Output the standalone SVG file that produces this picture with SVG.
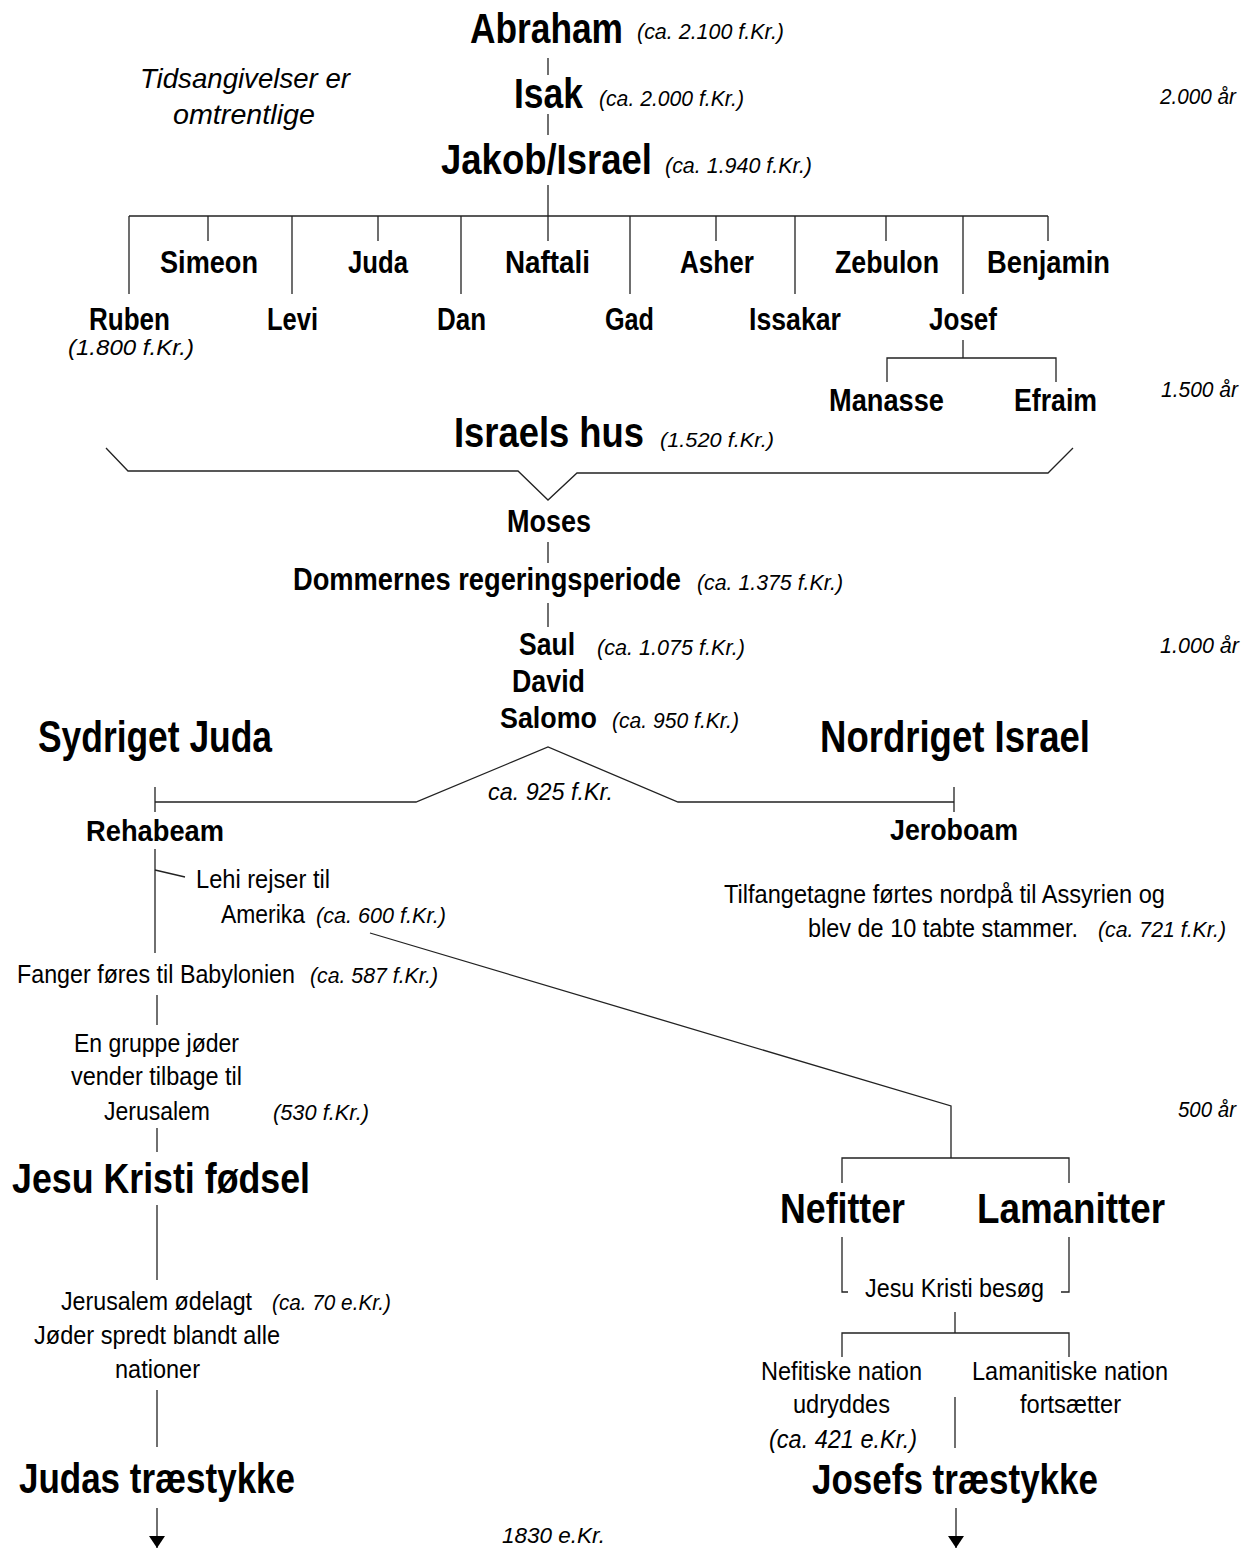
<svg xmlns="http://www.w3.org/2000/svg" width="1249" height="1548" viewBox="0 0 1249 1548">
<style>
text{font-family:"Liberation Sans",Arial,sans-serif;fill:#000}
.big{font-size:42px;font-weight:bold}
.med{font-size:31px;font-weight:bold}
.sm{font-size:29px;font-weight:bold}
.reg{font-size:25px}
.it{font-size:22px;font-style:italic}
.note{font-size:28px;font-style:italic}
.ln{fill:none;stroke:#222;stroke-width:1.3}
</style>
<defs>
<marker id="arr" markerUnits="userSpaceOnUse" markerWidth="12" markerHeight="16" refX="12" refY="8" orient="auto">
<path d="M0,0 L12,8 L0,16 z" fill="#000"/>
</marker>
</defs>
<rect width="1249" height="1548" fill="#fff"/>

<g id="connectors" class="ln">
<path d="M548,58 V75"/>
<path d="M548,114 V135"/>
<path d="M548,185 V241"/>
<path d="M129,216 H1048"/>
<path d="M129,216 V294 M292,216 V294 M461,216 V294 M630,216 V294 M795,216 V294 M963,216 V294"/>
<path d="M208,216 V241 M378,216 V241 M716,216 V241 M886,216 V241 M1048,216 V241"/>
<path d="M963,340 V358 M887,382 V358 H1056 V382"/>
<polyline points="106,448 128,471 518,471 548,500 577,473 1048,473 1073,448"/>
<path d="M548,542 V563"/>
<path d="M548,603 V627"/>
<polyline points="155,802 416,802 548,747 678,802 954,802"/>
<path d="M155,787 V812 M954,787 V812"/>
<path d="M155,849 V953"/>
<path d="M155,870 L185,877"/>
<polyline points="370,933 951,1106 951,1158"/>
<path d="M842,1183 V1158 H1069 V1183"/>
<path d="M157,995 V1025"/>
<path d="M157,1128 V1152"/>
<path d="M157,1205 V1280"/>
<path d="M157,1390 V1447"/>
<path d="M157,1508 V1548" marker-end="url(#arr)"/>
<path d="M842,1237 V1292 H848 M1069,1237 V1292 H1061"/>
<path d="M955,1312 V1333 M842,1357 V1333 H1069 V1357"/>
<path d="M955,1397 V1448"/>
<path d="M956,1508 V1548" marker-end="url(#arr)"/>
</g>

<g id="note"><text class="note" x="140" y="88" textLength="210" lengthAdjust="spacingAndGlyphs">Tidsangivelser er</text><text class="note" x="173" y="124" textLength="142" lengthAdjust="spacingAndGlyphs">omtrentlige</text></g>

<g id="scale">
<text class="it" x="1160" y="104" textLength="76" lengthAdjust="spacingAndGlyphs">2.000 år</text>
<text class="it" x="1161" y="397" textLength="77" lengthAdjust="spacingAndGlyphs">1.500 år</text>
<text class="it" x="1160" y="653" textLength="79" lengthAdjust="spacingAndGlyphs">1.000 år</text>
<text class="it" x="1178" y="1117" textLength="58" lengthAdjust="spacingAndGlyphs">500 år</text>
<text class="it" x="502" y="1543" textLength="103" lengthAdjust="spacingAndGlyphs">1830 e.Kr.</text>
</g>

<g id="abraham"><text class="big" x="470" y="43" textLength="153" lengthAdjust="spacingAndGlyphs" style="font-size:38px" transform="matrix(1,0,0,1.105,0,-4.5)">Abraham</text><text class="it" x="637" y="39" textLength="147" lengthAdjust="spacingAndGlyphs">(ca. 2.100 f.Kr.)</text></g>
<g id="isak"><text class="big" x="514" y="108" textLength="69" lengthAdjust="spacingAndGlyphs">Isak</text><text class="it" x="599" y="106" textLength="145" lengthAdjust="spacingAndGlyphs">(ca. 2.000 f.Kr.)</text></g>
<g id="jakob"><text class="big" x="441" y="174" textLength="211" lengthAdjust="spacingAndGlyphs" style="font-size:38px" transform="matrix(1,0,0,1.105,0,-18.27)">Jakob/Israel</text><text class="it" x="665" y="173" textLength="147" lengthAdjust="spacingAndGlyphs">(ca. 1.940 f.Kr.)</text></g>

<g id="simeon"><text class="med" x="160" y="273" textLength="98" lengthAdjust="spacingAndGlyphs">Simeon</text></g>
<g id="juda"><text class="med" x="348" y="273" textLength="60" lengthAdjust="spacingAndGlyphs">Juda</text></g>
<g id="naftali"><text class="med" x="505" y="273" textLength="85" lengthAdjust="spacingAndGlyphs">Naftali</text></g>
<g id="asher"><text class="med" x="680" y="273" textLength="74" lengthAdjust="spacingAndGlyphs">Asher</text></g>
<g id="zebulon"><text class="med" x="835" y="273" textLength="104" lengthAdjust="spacingAndGlyphs">Zebulon</text></g>
<g id="benjamin"><text class="med" x="987" y="273" textLength="123" lengthAdjust="spacingAndGlyphs">Benjamin</text></g>
<g id="ruben"><text class="med" x="89" y="330" textLength="81" lengthAdjust="spacingAndGlyphs">Ruben</text><text class="it" x="68" y="355" textLength="126" lengthAdjust="spacingAndGlyphs">(1.800 f.Kr.)</text></g>
<g id="levi"><text class="med" x="267" y="330" textLength="51" lengthAdjust="spacingAndGlyphs">Levi</text></g>
<g id="dan"><text class="med" x="437" y="330" textLength="49" lengthAdjust="spacingAndGlyphs">Dan</text></g>
<g id="gad"><text class="med" x="605" y="330" textLength="49" lengthAdjust="spacingAndGlyphs">Gad</text></g>
<g id="issakar"><text class="med" x="749" y="330" textLength="92" lengthAdjust="spacingAndGlyphs">Issakar</text></g>
<g id="josef"><text class="med" x="929" y="330" textLength="68" lengthAdjust="spacingAndGlyphs">Josef</text></g>
<g id="manasse"><text class="med" x="829" y="411" textLength="115" lengthAdjust="spacingAndGlyphs">Manasse</text></g>
<g id="efraim"><text class="med" x="1014" y="411" textLength="83" lengthAdjust="spacingAndGlyphs">Efraim</text></g>

<g id="israels-hus"><text class="big" x="454" y="447" textLength="190" lengthAdjust="spacingAndGlyphs" style="font-size:39px" transform="matrix(1,0,0,1.077,0,-34.4)">Israels hus</text><text class="it" x="660" y="447" textLength="114" lengthAdjust="spacingAndGlyphs" style="font-size:20px">(1.520 f.Kr.)</text></g>
<g id="moses"><text class="med" x="507" y="532" textLength="84" lengthAdjust="spacingAndGlyphs">Moses</text></g>
<g id="dommerne"><text class="med" x="293" y="590" textLength="388" lengthAdjust="spacingAndGlyphs" style="font-size:28px" transform="matrix(1,0,0,1.107,0,-63.1)">Dommernes regeringsperiode</text><text class="it" x="697" y="590" textLength="146" lengthAdjust="spacingAndGlyphs">(ca. 1.375 f.Kr.)</text></g>
<g id="saul"><text class="med" x="519" y="655" textLength="56" lengthAdjust="spacingAndGlyphs">Saul</text><text class="it" x="597" y="655" textLength="148" lengthAdjust="spacingAndGlyphs">(ca. 1.075 f.Kr.)</text></g>
<g id="david"><text class="med" x="512" y="692" textLength="73" lengthAdjust="spacingAndGlyphs">David</text></g>
<g id="salomo"><text class="med" x="500" y="728" textLength="97" lengthAdjust="spacingAndGlyphs" style="font-size:30px">Salomo</text><text class="it" x="612" y="728" textLength="127" lengthAdjust="spacingAndGlyphs">(ca. 950 f.Kr.)</text></g>
<g id="split"><text class="it" x="488" y="800" textLength="125" lengthAdjust="spacingAndGlyphs" style="font-size:24px">ca. 925 f.Kr.</text></g>

<g id="sydriget"><text class="big" x="38" y="752" textLength="234" lengthAdjust="spacingAndGlyphs" style="font-size:44px">Sydriget Juda</text></g>
<g id="nordriget"><text class="big" x="820" y="752" textLength="270" lengthAdjust="spacingAndGlyphs" style="font-size:44px">Nordriget Israel</text></g>

<g id="rehabeam"><text class="sm" x="86" y="841" textLength="138" lengthAdjust="spacingAndGlyphs">Rehabeam</text></g>
<g id="jeroboam"><text class="sm" x="890" y="840" textLength="128" lengthAdjust="spacingAndGlyphs">Jeroboam</text></g>

<g id="lehi"><text class="reg" x="196" y="888" textLength="134" lengthAdjust="spacingAndGlyphs">Lehi rejser til</text><text class="reg" x="221" y="923" textLength="84" lengthAdjust="spacingAndGlyphs">Amerika</text><text class="it" x="316" y="923" textLength="130" lengthAdjust="spacingAndGlyphs">(ca. 600 f.Kr.)</text></g>
<g id="assyrien"><text class="reg" x="724" y="903" textLength="441" lengthAdjust="spacingAndGlyphs">Tilfangetagne førtes nordpå til Assyrien og</text><text class="reg" x="808" y="937" textLength="270" lengthAdjust="spacingAndGlyphs">blev de 10 tabte stammer.</text><text class="it" x="1098" y="937" textLength="128" lengthAdjust="spacingAndGlyphs">(ca. 721 f.Kr.)</text></g>
<g id="babylonien"><text class="reg" x="17" y="983" textLength="278" lengthAdjust="spacingAndGlyphs">Fanger føres til Babylonien</text><text class="it" x="310" y="983" textLength="128" lengthAdjust="spacingAndGlyphs">(ca. 587 f.Kr.)</text></g>
<g id="tilbage"><text class="reg" x="74" y="1052" textLength="165" lengthAdjust="spacingAndGlyphs">En gruppe jøder</text><text class="reg" x="71" y="1085" textLength="171" lengthAdjust="spacingAndGlyphs">vender tilbage til</text><text class="reg" x="104" y="1120" textLength="106" lengthAdjust="spacingAndGlyphs">Jerusalem</text><text class="it" x="273" y="1120" textLength="96" lengthAdjust="spacingAndGlyphs">(530 f.Kr.)</text></g>
<g id="jesu-fodsel"><text class="big" x="12" y="1193" textLength="298" lengthAdjust="spacingAndGlyphs">Jesu Kristi fødsel</text></g>
<g id="odelagt"><text class="reg" x="61" y="1310" textLength="191" lengthAdjust="spacingAndGlyphs">Jerusalem ødelagt</text><text class="it" x="272" y="1310" textLength="119" lengthAdjust="spacingAndGlyphs">(ca. 70 e.Kr.)</text><text class="reg" x="34" y="1344" textLength="246" lengthAdjust="spacingAndGlyphs">Jøder spredt blandt alle</text><text class="reg" x="115" y="1378" textLength="85" lengthAdjust="spacingAndGlyphs">nationer</text></g>
<g id="judas"><text class="big" x="19" y="1493" textLength="276" lengthAdjust="spacingAndGlyphs">Judas træstykke</text></g>

<g id="nefitter"><text class="big" x="780" y="1223" textLength="125" lengthAdjust="spacingAndGlyphs">Nefitter</text></g>
<g id="lamanitter"><text class="big" x="977" y="1223" textLength="188" lengthAdjust="spacingAndGlyphs">Lamanitter</text></g>
<g id="besog"><text class="reg" x="865" y="1297" textLength="179" lengthAdjust="spacingAndGlyphs">Jesu Kristi besøg</text></g>
<g id="nefitiske"><text class="reg" x="761" y="1380" textLength="161" lengthAdjust="spacingAndGlyphs">Nefitiske nation</text><text class="reg" x="793" y="1413" textLength="97" lengthAdjust="spacingAndGlyphs">udryddes</text><text class="it" x="769" y="1448" textLength="148" lengthAdjust="spacingAndGlyphs" style="font-size:25px">(ca. 421 e.Kr.)</text></g>
<g id="lamanitiske"><text class="reg" x="972" y="1380" textLength="196" lengthAdjust="spacingAndGlyphs">Lamanitiske nation</text><text class="reg" x="1020" y="1413" textLength="101" lengthAdjust="spacingAndGlyphs">fortsætter</text></g>
<g id="josefs"><text class="big" x="812" y="1494" textLength="286" lengthAdjust="spacingAndGlyphs">Josefs træstykke</text></g>
</svg>
